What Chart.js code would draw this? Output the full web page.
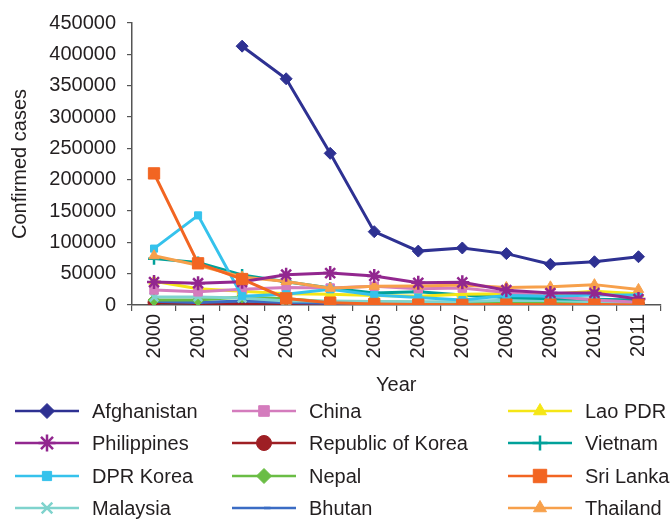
<!DOCTYPE html>
<html>
<head>
<meta charset="utf-8">
<style>
  html, body { margin: 0; padding: 0; background: #ffffff; }
  #wrap { width: 670px; height: 519px; position: relative; }
</style>
<script src="https://cdn.jsdelivr.net/npm/chart.js@4/dist/chart.umd.min.js"></script>
</head>
<body>
<div id="wrap"><canvas id="c" width="670" height="519"></canvas></div>
<script>
// Confirmed malaria cases by country, 2000-2011
const years = ['2000','2001','2002','2003','2004','2005','2006','2007','2008','2009','2010','2011'];
const yTicks = [0, 50000, 100000, 150000, 200000, 250000, 300000, 350000, 400000, 450000];

const afghanistan = [null, null, 413000, 361000, 242000, 117000, 86000, 91000, 82000, 65000, 69000, 77000];
const philippines = [36600, 34800, 37000, 48400, 50900, 46300, 35400, 36200, 23700, 19100, 19100, 9600];
const dprKorea    = [90000, 143000, 14000, 17000, 25000, 16000, 12000, 8000, 15000, 14000, 16000, 16000];
const malaysia    = [12700, 12800, 11000, 6300, 6200, 5600, 5300, 5500, 7400, 7000, 5200, 4000];
const china       = [24000, 21000, 25000, 28000, 27000, 30000, 26000, 27000, 20000, 14000, 8000, 4500];
const korea       = [4100, 2600, 1800, 1200, 900, 1400, 2100, 2200, 1100, 1300, 1800, 800];
const nepal       = [8000, 8000, 12800, 9900, 4900, 5100, 4200, 3200, 3400, 3300, 3100, 1900];
const bhutan      = [5900, 3800, 6500, 3800, 2800, 1800, 1900, 800, 330, 970, 440, 190];
const lao         = [38000, 26000, 22000, 18000, 17000, 15000, 14000, 17000, 18000, 17000, 22000, 18000];
const vietnam     = [74000, 68000, 48000, 37000, 27000, 19000, 21000, 16000, 12000, 10000, 9000, 8000];
const sriLanka    = [210000, 66500, 41400, 10500, 3700, 1600, 600, 200, 670, 560, 680, 180];
const thailand    = [78600, 63500, 44600, 37400, 26700, 29800, 30300, 32000, 28000, 29000, 32500, 24900];

const FONT = '"Liberation Sans", Arial, Helvetica, sans-serif';
const TEXT = '#231f20';
const AXIS = '#555555';

function series(label, data, color, style, radius, order) {
  return {
    label: label,
    data: data,
    borderColor: color,
    backgroundColor: color,
    borderWidth: 3,
    pointStyle: style,
    pointRadius: radius,
    pointHoverRadius: radius,
    pointBackgroundColor: color,
    pointBorderColor: color,
    pointBorderWidth: (style === 'star' || style === 'cross' || style === 'crossRot' || style === 'dash') ? 2.5 : 1,
    tension: 0,
    spanGaps: false,
    order: order
  };
}

const datasets = [
  series('Afghanistan', afghanistan, '#2e3192', 'rectRot', 6, 0),
  series('Philippines', philippines, '#92278f', 'star', 7, 2),
  series('DPR Korea', dprKorea, '#35c2ec', 'rect', 5, 4),
  series('Malaysia', malaysia, '#7fd3cd', 'crossRot', 6, 8),
  series('China', china, '#d47cbd', 'rect', 6, 5),
  series('Republic of Korea', korea, '#9e1f24', 'circle', 6, 11),
  series('Nepal', nepal, '#6abd45', 'rectRot', 6, 9),
  series('Bhutan', bhutan, '#3b6cc4', 'dash', 5, 10),
  series('Lao PDR', lao, '#f5e616', 'triangle', 6, 6),
  series('Vietnam', vietnam, '#00a19a', 'cross', 6, 7),
  series('Sri Lanka', sriLanka, '#f26522', 'rect', 8, 1),
  series('Thailand', thailand, '#f7a04b', 'triangle', 6, 3)
];

// Three-column legend drawn beneath the axes
const gridLegend = {
  id: 'gridLegend',
  afterDraw(chart) {
    const ctx = chart.ctx;
    const colX = [15, 232, 508];
    const rowY = [411, 443, 476, 508];
    const lineLen = 64;
    ctx.save();
    chart.data.datasets.forEach((ds, i) => {
      const col = Math.floor(i / 4);
      const row = i % 4;
      const x0 = colX[col];
      const y = rowY[row];
      ctx.strokeStyle = ds.borderColor;
      ctx.lineWidth = 2.5;
      ctx.beginPath();
      ctx.moveTo(x0, y);
      ctx.lineTo(x0 + lineLen, y);
      ctx.stroke();
      ctx.fillStyle = ds.pointBackgroundColor;
      ctx.strokeStyle = ds.pointBorderColor;
      ctx.lineWidth = ds.pointBorderWidth;
      if (Chart.helpers && Chart.helpers.drawPoint) {
        Chart.helpers.drawPoint(ctx, {
          pointStyle: ds.pointStyle,
          radius: ds.pointRadius + 1.5,
          rotation: 0,
          borderWidth: ds.pointBorderWidth
        }, x0 + lineLen / 2, y);
      } else {
        ctx.beginPath();
        ctx.arc(x0 + lineLen / 2, y, ds.pointRadius, 0, Math.PI * 2);
        ctx.fill();
      }
      ctx.fillStyle = TEXT;
      ctx.font = '20px ' + FONT;
      ctx.textAlign = 'left';
      ctx.textBaseline = 'middle';
      ctx.fillText(ds.label, x0 + 77, y + 1);
    });
    ctx.restore();
  }
};

new Chart(document.getElementById('c'), {
  type: 'line',
  data: { labels: years, datasets: datasets },
  options: {
    responsive: false,
    animation: false,
    devicePixelRatio: 1,
    layout: { padding: { left: 0, right: 3, top: 23, bottom: 122 } },
    plugins: {
      legend: { display: false },
      tooltip: { enabled: false }
    },
    scales: {
      x: {
        type: 'category',
        offset: true,
        afterFit(scale) { scale.height = 92; },
        grid: {
          display: true,
          offset: true,
          drawOnChartArea: false,
          drawTicks: true,
          tickLength: 6,
          color: AXIS,
          lineWidth: 1.2
        },
        border: { display: true, color: AXIS, width: 1.5 },
        ticks: {
          color: TEXT,
          font: { family: FONT, size: 20 },
          minRotation: 90,
          maxRotation: 90,
          padding: 3,
          autoSkip: false
        },
        title: {
          display: true,
          text: 'Year',
          color: TEXT,
          font: { family: FONT, size: 20 },
          padding: 0
        }
      },
      y: {
        min: 0,
        max: 450000,
        afterFit(scale) { scale.width = 132; },
        afterBuildTicks(scale) { scale.ticks = yTicks.map(v => ({ value: v })); },
        grid: {
          display: true,
          drawOnChartArea: false,
          drawTicks: true,
          tickLength: 5,
          color: AXIS,
          lineWidth: 1.2
        },
        border: { display: true, color: AXIS, width: 1.5 },
        ticks: {
          color: TEXT,
          font: { family: FONT, size: 20 },
          padding: 11,
          callback: (v) => String(v)
        },
        title: {
          display: true,
          text: 'Confirmed cases',
          color: TEXT,
          font: { family: FONT, size: 20 },
          padding: { top: 8, bottom: 0 }
        }
      }
    }
  },
  plugins: [gridLegend]
});
</script>
</body>
</html>
